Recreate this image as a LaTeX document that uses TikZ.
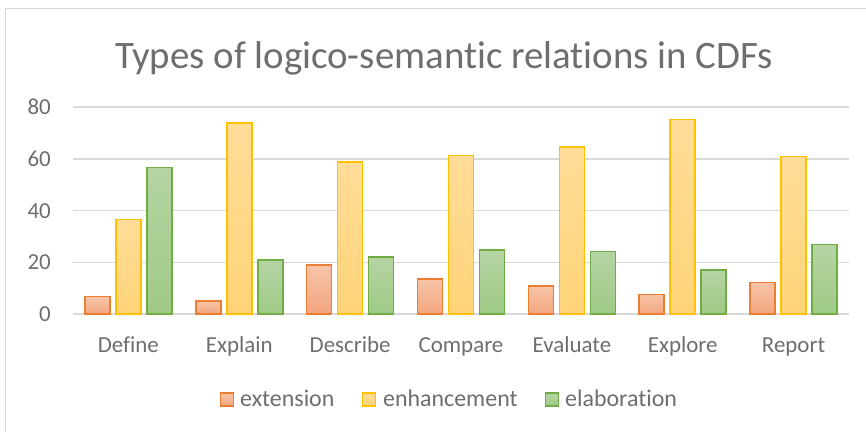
\documentclass[tikz,border=0pt]{standalone}
\usepackage{fontspec}
\setmainfont{Carlito}[Ligatures=NoCommon]
\usetikzlibrary{positioning}

\definecolor{txtgray}{HTML}{6E6E6E}
\definecolor{gridgray}{HTML}{D9D9D9}
\definecolor{extline}{HTML}{ED7D31}
\definecolor{exttop}{HTML}{F7C4A8}
\definecolor{extbot}{HTML}{F3A67F}
\definecolor{enhline}{HTML}{FFC000}
\definecolor{enhtop}{HTML}{FFDC98}
\definecolor{enhbot}{HTML}{FFD478}
\definecolor{elaline}{HTML}{70AD47}
\definecolor{elatop}{HTML}{B5D4A3}
\definecolor{elabot}{HTML}{9FCA85}

\tikzset{
  ext/.style={draw=extline, line width=1.5bp, top color=exttop, bottom color=extbot},
  enh/.style={draw=enhline, line width=1.5bp, top color=enhtop, bottom color=enhbot},
  ela/.style={draw=elaline, line width=1.5bp, top color=elatop, bottom color=elabot},
  grid line/.style={draw=gridgray, line width=1.5bp},
  tick label/.style={text=txtgray, font=\fontsize{23}{27}\selectfont, inner sep=0pt},
}

\begin{document}
\begin{tikzpicture}[x=1bp, y=1bp]
          \useasboundingbox (0,0) rectangle (866,432);
          \fill[white] (0,0) rectangle (866,432);
          \draw[gridgray, line width=1bp] (866,423.5) -- (5.5,423.5) -- (5.5,0);

          \node[text=txtgray, font=\fontsize{39}{46}\selectfont, anchor=base, inner sep=0pt] (title) at (444,364) {Types of logico-semantic relations in CDFs};

          \draw[grid line] (73,118)    -- (849,118);
          \draw[grid line] (73,169.75) -- (849,169.75);
          \draw[grid line] (73,221.5)  -- (849,221.5);
          \draw[grid line] (73,273.25) -- (849,273.25);
          \draw[grid line] (73,325)    -- (849,325);

          \node[tick label, anchor=base east] (y0)  at (51,110.5) {0};
          \node[tick label, anchor=base east] (y20) at (51,162.25) {20};
          \node[tick label, anchor=base east] (y40) at (51,214) {40};
          \node[tick label, anchor=base east] (y60) at (51,265.75) {60};
          \node[tick label, anchor=base east] (y80) at (51,317.5) {80};

          \begin{scope}[y=2.5875bp, yshift=118bp]
          \draw[ext] (84.9,0)  rectangle (109.9,6.7);
          \draw[enh] (115.9,0) rectangle (140.9,36.5);
          \draw[ela] (146.9,0) rectangle (171.9,56.6);

          \draw[ext] (195.8,0) rectangle (220.8,5);
          \draw[enh] (226.8,0) rectangle (251.8,73.9);
          \draw[ela] (257.8,0) rectangle (282.8,20.8);

          \draw[ext] (306.6,0) rectangle (331.6,18.9);
          \draw[enh] (337.6,0) rectangle (362.6,58.8);
          \draw[ela] (368.6,0) rectangle (393.6,22.1);

          \draw[ext] (417.5,0) rectangle (442.5,13.5);
          \draw[enh] (448.5,0) rectangle (473.5,61.3);
          \draw[ela] (479.5,0) rectangle (504.5,24.8);

          \draw[ext] (528.4,0) rectangle (553.4,10.9);
          \draw[enh] (559.4,0) rectangle (584.4,64.5);
          \draw[ela] (590.4,0) rectangle (615.4,24.2);

          \draw[ext] (639.2,0) rectangle (664.2,7.6);
          \draw[enh] (670.2,0) rectangle (695.2,75.2);
          \draw[ela] (701.2,0) rectangle (726.2,17);

          \draw[ext] (750.1,0) rectangle (775.1,12.2);
          \draw[enh] (781.1,0) rectangle (806.1,60.9);
          \draw[ela] (812.1,0) rectangle (837.1,26.9);
          \end{scope}

          \node[tick label, anchor=base] (define)   at (128.4,80) {Define};
          \node[tick label, anchor=base] (explain)  at (239.3,80) {Explain};
          \node[tick label, anchor=base] (describe) at (350.1,80) {Describe};
          \node[tick label, anchor=base] (compare)  at (461,80)   {Compare};
          \node[tick label, anchor=base] (evaluate) at (571.9,80) {Evaluate};
          \node[tick label, anchor=base] (explore)  at (682.7,80) {Explore};
          \node[tick label, anchor=base] (report)   at (793.6,80) {Report};

          \node[ext, minimum size=13bp, inner sep=0pt] (kext) at (227,32.5) {};
          \node[tick label, anchor=base west, font=\fontsize{24}{28}\selectfont] (lext) at (240,26) {extension};
          \node[enh, minimum size=13bp, inner sep=0pt] (kenh) at (369,32.5) {};
          \node[tick label, anchor=base west, font=\fontsize{24}{28}\selectfont] (lenh) at (383,26) {enhancement};
          \node[ela, minimum size=13bp, inner sep=0pt] (kela) at (552,32.5) {};
          \node[tick label, anchor=base west, font=\fontsize{24}{28}\selectfont] (lela) at (565,26) {elaboration};
        \end{tikzpicture}
\end{document}
